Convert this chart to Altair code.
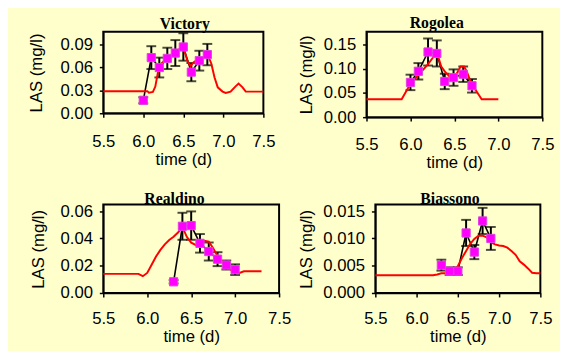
import altair as alt
import pandas as pd

# ---------------- data ----------------
VIC_T = [6.0, 6.1, 6.2, 6.3, 6.4, 6.5, 6.6, 6.7, 6.8]
VIC_V = [0.017, 0.073, 0.060, 0.072, 0.079, 0.087, 0.054, 0.069, 0.077]
VIC_E = [0.004, 0.015, 0.013, 0.014, 0.017, 0.018, 0.012, 0.013, 0.014]
VIC_MT = [5.5, 6.05, 6.07, 6.12, 6.15, 6.18, 6.2, 6.3, 6.4, 6.45, 6.5, 6.55, 6.59, 6.63, 6.69, 6.81,
          6.85, 6.89, 6.93, 6.99, 7.03, 7.09, 7.15, 7.19, 7.24, 7.28, 7.5]
VIC_MV = [0.029, 0.029, 0.027, 0.028, 0.035, 0.052, 0.063, 0.072, 0.080, 0.084, 0.087, 0.069, 0.062,
          0.067, 0.071, 0.0755, 0.065, 0.047, 0.034, 0.0284, 0.0266, 0.0284, 0.035, 0.039, 0.034,
          0.0284, 0.0284]

ROG_T = [6.0, 6.09, 6.2, 6.3, 6.39, 6.49, 6.6, 6.7]
ROG_V = [0.072, 0.095, 0.135, 0.132, 0.074, 0.082, 0.089, 0.065]
ROG_E = [0.016, 0.017, 0.028, 0.027, 0.016, 0.017, 0.016, 0.014]
ROG_MT = [5.5, 5.9, 6.0, 6.1, 6.2, 6.25, 6.3, 6.35, 6.39, 6.46, 6.52, 6.57, 6.61, 6.64, 6.69,
          6.76, 6.81, 7.0]
ROG_MV = [0.037, 0.037, 0.069, 0.089, 0.110, 0.122, 0.134, 0.105, 0.095, 0.081, 0.088, 0.105,
          0.105, 0.095, 0.071, 0.051, 0.037, 0.037]

REA_T = [6.3, 6.4, 6.5, 6.6, 6.7, 6.8, 6.9, 7.0]
REA_V = [0.0082, 0.0489, 0.0494, 0.0364, 0.0304, 0.0248, 0.0205, 0.0171]
REA_E = [0.0012, 0.0099, 0.0104, 0.0068, 0.0066, 0.0051, 0.0033, 0.0039]
REA_MT = [5.5, 5.9, 5.95, 6.0, 6.05, 6.1, 6.15, 6.2, 6.25, 6.3, 6.35, 6.4, 6.45, 6.5, 6.55, 6.6,
          6.65, 6.7, 6.75, 6.8, 6.85, 6.9, 6.95, 7.0, 7.05, 7.1, 7.3]
REA_MV = [0.014, 0.014, 0.0123, 0.0147, 0.0207, 0.0267, 0.0316, 0.0357, 0.0388, 0.0412, 0.0443,
          0.0484, 0.0412, 0.0369, 0.0352, 0.0357, 0.0383, 0.0376, 0.0328, 0.0272, 0.0231, 0.020,
          0.0171, 0.0152, 0.0147, 0.0159, 0.0159]

BIA_T = [6.3, 6.4, 6.5, 6.6, 6.7, 6.8, 6.9]
BIA_V = [0.0051, 0.0040, 0.0040, 0.0110, 0.0075, 0.0132, 0.0100]
BIA_E = [0.0010, 0.0007, 0.0007, 0.0024, 0.0013, 0.0024, 0.0021]
BIA_MT = [5.5, 6.2, 6.25, 6.3, 6.4, 6.45, 6.5, 6.55, 6.6, 6.65, 6.7, 6.75, 6.8, 6.85, 6.9, 6.95,
          7.0, 7.05, 7.1, 7.15, 7.2, 7.25, 7.3, 7.35, 7.4, 7.45, 7.5]
BIA_MV = [0.00325, 0.00325, 0.0034, 0.0036, 0.0036, 0.0040, 0.0049, 0.0064, 0.0077, 0.0090,
          0.0099, 0.0105, 0.0105, 0.0102, 0.0093, 0.0089, 0.0087, 0.0086, 0.0083, 0.0077, 0.0070,
          0.0058, 0.0052, 0.0045, 0.0037, 0.0036, 0.0036]

X_TICKS = [5.5, 6.0, 6.5, 7.0, 7.5]

BG = "#FFFFCC"
SANS = "Liberation Sans"
SERIF = "Liberation Serif"


def panel(name, t, v, e, mt, mv, ymax, yticks, yfmt, w, h, tdx, toff, xlp, ytp):
    obs = pd.DataFrame({"t": t, "v": v,
                        "lo": [a - b for a, b in zip(v, e)],
                        "hi": [a + b for a, b in zip(v, e)]})
    mod = pd.DataFrame({"t": mt, "v": mv})
    xs = alt.Scale(domain=[5.5, 7.5], nice=False, zero=False)
    ys = alt.Scale(domain=[0, ymax], nice=False, zero=True)
    common = dict(grid=False, labelFont=SANS, titleFont=SANS, labelFontSize=17, titleFontSize=17,
                  titleFontWeight="normal", labelColor="black", titleColor="black",
                  tickColor="black", domainColor="black", tickSize=4, tickWidth=1.5,
                  domainWidth=1.5, labelFlush=False, labelOverlap=False)
    xax = alt.Axis(values=X_TICKS, format=".1f", title="time (d)",
                   labelPadding=xlp, titlePadding=2, **common)
    yax = alt.Axis(values=yticks, format=yfmt, title="LAS (mg/l)",
                   labelPadding=7, titlePadding=ytp, **common)
    X = alt.X("t:Q", scale=xs, axis=xax)

    def Y(field):
        return alt.Y(field, type="quantitative", scale=ys, axis=yax)

    base_obs = alt.Chart(obs)
    obs_line = base_obs.mark_line(color="black", strokeWidth=1.6).encode(x=X, y=Y("v"))
    err = base_obs.mark_rule(color="black", strokeWidth=2).encode(
        x=X, y=Y("lo"), y2="hi:Q")
    cap_hi = base_obs.mark_tick(color="black", orient="horizontal", size=10, thickness=2).encode(
        x=X, y=Y("hi"))
    cap_lo = base_obs.mark_tick(color="black", orient="horizontal", size=10, thickness=2).encode(
        x=X, y=Y("lo"))
    model = alt.Chart(mod).mark_line(color="#FF0000", strokeWidth=2).encode(x=X, y=Y("v"))
    pts = base_obs.mark_square(size=70, color="#FF00FF", opacity=1, stroke="#E040E0",
                               strokeWidth=1).encode(x=X, y=Y("v"))
    title = alt.Chart(pd.DataFrame({"label": [name]})).mark_text(
        font=SERIF, fontSize=16, fontWeight="bold", color="black",
        align="center", baseline="alphabetic").encode(
        x=alt.value(w / 2 + tdx), y=alt.value(-toff), text="label:N")
    return alt.layer(obs_line, err, cap_hi, cap_lo, model, pts, title).properties(
        width=w, height=h)


p1 = panel("Victory", VIC_T, VIC_V, VIC_E, VIC_MT, VIC_MV, 0.107, [0, 0.03, 0.06, 0.09], ".2f",
           163, 83, 1.5, 3, 17, 15)
p2 = panel("Rogolea", ROG_T, ROG_V, ROG_E, ROG_MT, ROG_MV, 0.177, [0, 0.05, 0.10, 0.15], ".2f",
           179, 87, -18, 4, 16, 8)
p3 = panel("Realdino", REA_T, REA_V, REA_E, REA_MT, REA_MV, 0.0648, [0, 0.02, 0.04, 0.06], ".2f",
           179, 90, -17, 1, 14, 13)
p4 = panel("Biassono", BIA_T, BIA_V, BIA_E, BIA_MT, BIA_MV, 0.0162,
           [0, 0.005, 0.010, 0.015], ".3f", 168, 90, -8, 1, 14, 7)

row1 = alt.hconcat(p1, p2, spacing=105, bounds="flush")
row2 = alt.hconcat(p3, p4, spacing=98, bounds="flush")

chart = alt.vconcat(row1, row2, spacing=19).properties(
    background=BG,
    padding={"left": 18, "top": 3, "right": 5, "bottom": 8},
).configure_view(stroke="black", strokeWidth=2, fill=BG)

chart.save("out.html", embed_options={"renderer": "svg", "actions": False})
